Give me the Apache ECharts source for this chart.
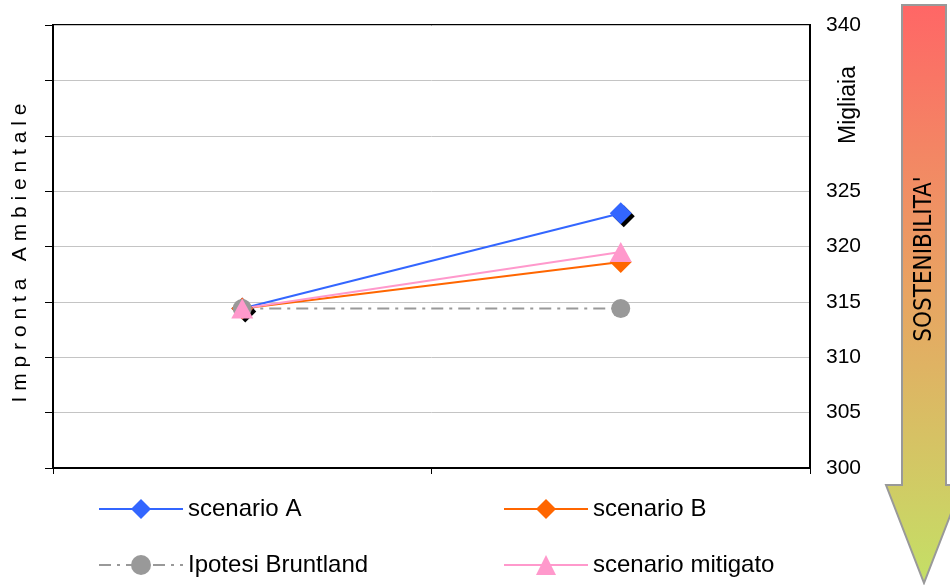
<!DOCTYPE html>
<html>
<head>
<meta charset="utf-8">
<script src="https://cdn.jsdelivr.net/npm/echarts@6/dist/echarts.min.js"></script>
<style>
html,body{margin:0;padding:0;background:#fff;}
#main{width:950px;height:585px;}
</style>
</head>
<body>
<div id="main"></div>
<script>
// ---- data ----
const categories = ['inizio', 'fine'];
const scenarioA = [314.4, 323.0];
const scenarioB = [314.4, 318.6];
const bruntland = [314.4, 314.4];
const mitigato = [314.4, 319.5];
const rightTickValues = [300, 305, 310, 315, 320, 325, 330, 335, 340];
const rightTickLabels = ['300', '305', '310', '315', '320', '325', '', '', '340'];
const seriesNames = ['scenario A', 'scenario B', 'Ipotesi Bruntland', 'scenario mitigato'];

const FONT = "'Liberation Sans', Arial, sans-serif";
const chart = echarts.init(document.getElementById('main'), null, {renderer: 'canvas'});

const spaced = 'Impronta Ambientale'.split('').join(' ');

const noShadow = {shadowBlur: 0, shadowOffsetX: 0, shadowOffsetY: 0, shadowColor: 'rgba(0,0,0,0)'};
function legendAt(name, left, top) {
  return {
    data: [name], left: left, top: top, orient: 'horizontal',
    itemWidth: 84, itemHeight: 25, padding: 0, selectedMode: false,
    textStyle: {fontFamily: FONT, fontSize: 24, color: '#000'},
    itemStyle: noShadow
  };
}

const option = {
  backgroundColor: '#fff',
  animation: false,
  grid: {left: 53, right: 140, top: 25, bottom: 117, show: true, borderColor: '#000', borderWidth: 2, backgroundColor: '#fff'},
  xAxis: {
    type: 'category', data: categories, boundaryGap: true,
    axisLine: {show: true, lineStyle: {color: '#000', width: 2}},
    axisTick: {show: true, length: 6, lineStyle: {color: '#000'}},
    axisLabel: {show: false},
    splitLine: {show: false}
  },
  yAxis: [
    {
      type: 'value', min: 300, max: 340, interval: 5, position: 'left',
      axisLine: {show: true, lineStyle: {color: '#000', width: 2}},
      axisTick: {show: true, length: 8, lineStyle: {color: '#000'}},
      axisLabel: {show: false},
      splitLine: {show: true, lineStyle: {color: '#c4c4c4', width: 1}}
    },
    {
      type: 'value', min: 300, max: 340, interval: 5, position: 'right',
      axisLine: {show: true, lineStyle: {color: '#000', width: 2}},
      axisTick: {show: false},
      axisLabel: {
        margin: 16, fontSize: 21, fontFamily: FONT, color: '#000',
        formatter: v => { const i = rightTickValues.indexOf(v); return i >= 0 ? rightTickLabels[i] : ''; }
      },
      splitLine: {show: false}
    }
  ],
  legend: [
    legendAt(seriesNames[0], 98, 497),
    legendAt(seriesNames[1], 503, 497),
    legendAt(seriesNames[2], 98, 553),
    legendAt(seriesNames[3], 503, 553)
  ],
  series: [
    {
      name: seriesNames[0], type: 'line', data: scenarioA, yAxisIndex: 0,
      symbol: 'diamond', symbolSize: 22, color: '#3366FF',
      lineStyle: {color: '#3366FF', width: 2},
      itemStyle: {color: '#3366FF', shadowColor: '#000', shadowOffsetX: 3, shadowOffsetY: 3, shadowBlur: 0}
    },
    {
      name: seriesNames[1], type: 'line', data: scenarioB, yAxisIndex: 0,
      symbol: 'diamond', symbolSize: 22, color: '#FF6600',
      lineStyle: {color: '#FF6600', width: 2},
      itemStyle: {color: '#FF6600'}
    },
    {
      name: seriesNames[2], type: 'line', data: bruntland, yAxisIndex: 0,
      symbol: 'circle', symbolSize: 19, color: '#999999',
      lineStyle: {color: '#999999', width: 2, type: [12, 6, 3, 6]},
      itemStyle: {color: '#999999'}
    },
    {
      name: seriesNames[3], type: 'line', data: mitigato, yAxisIndex: 0,
      symbol: 'triangle', symbolSize: [22, 20], color: '#FF99CC',
      lineStyle: {color: '#FF99CC', width: 2},
      itemStyle: {color: '#FF99CC'}
    }
  ],
  graphic: [
    {
      type: 'text', x: 20, y: 253, rotation: Math.PI / 2,
      style: {text: spaced, font: "21px 'Liberation Sans', Arial, sans-serif", fill: '#000', align: 'center', verticalAlign: 'middle'}
    },
    {
      type: 'text', x: 849, y: 105, rotation: Math.PI / 2,
      style: {text: 'Migliaia', font: "23px 'Liberation Sans', Arial, sans-serif", fill: '#000', align: 'center', verticalAlign: 'middle'}
    },
    {
      type: 'polygon',
      shape: {points: [[902, 5], [946, 5], [946, 485], [962, 485], [924, 583], [886, 485], [902, 485]]},
      style: {
        fill: new echarts.graphic.LinearGradient(0, 0, 0, 1, [
          {offset: 0, color: '#FF6666'},
          {offset: 0.5, color: '#E8A462'},
          {offset: 1, color: '#C4E066'}
        ]),
        stroke: '#999999', lineWidth: 2
      }
    },
    {
      type: 'text', x: 925, y: 259, rotation: Math.PI / 2,
      style: {text: "SOSTENIBILITA'", font: "24px 'Liberation Sans Narrow', 'DejaVu Sans Condensed', sans-serif", fill: '#000', align: 'center', verticalAlign: 'middle'}
    }
  ]
};
chart.setOption(option);
</script>
</body>
</html>
